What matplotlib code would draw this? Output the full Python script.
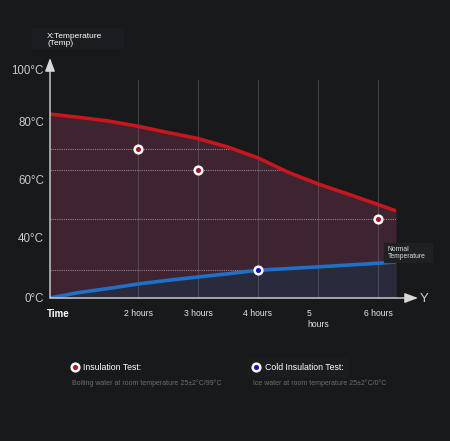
import numpy as np
import matplotlib
matplotlib.use('Agg')
import matplotlib.pyplot as plt
from matplotlib.lines import Line2D
from matplotlib.patches import Rectangle

plt.rcParams['font.family'] = ['Liberation Sans', 'DejaVu Sans']

W, H = 450, 441
BG = '#17191b'

# ---------------- data ----------------
red_hours = [0.53, 1.0, 1.5, 2.0, 2.5, 3.0, 3.5, 4.0, 4.5, 5.0, 5.5, 6.0, 6.3]
red_temp = [83.0, 81.8, 80.4, 78.5, 76.3, 74.2, 71.2, 67.4, 62.4, 58.3, 54.8, 51.2, 49.0]
blue_hours = [0.53, 1.0, 1.5, 2.0, 2.5, 3.0, 3.5, 4.0, 4.5, 5.0, 5.5, 6.0, 6.3]
blue_temp = [0.0, 3.5, 6.2, 9.2, 11.6, 13.8, 15.9, 18.2, 19.3, 20.4, 21.6, 22.8, 23.6]
hot_hours = [2, 3, 6]
hot_temp = [70.4, 63.1, 46.2]
cold_hours = [4]
cold_temp = [18.2]
y_ticks = [0, 40, 60, 80, 100]
y_labels = ['0°C', '40°C', '60°C', '80°C', '100°C']
x_ticks = [2, 3, 4, 5, 6]
x_labels = ['2 hours', '3 hours', '4 hours', '5\nhours', '6 hours']

# non-linear axis of the graphic: temperature -> drawn height
scale_t = [-40, 0, 40, 60, 80, 100, 140]
scale_h = [-61, 0, 61, 119, 176, 229, 335]


def fwd(t):
    return np.interp(t, scale_t, scale_h)


def inv(h):
    return np.interp(h, scale_h, scale_t)


def fx(px):
    return px / W


def fy(py):
    return 1 - py / H


fig = plt.figure(figsize=(4.5, 4.41), dpi=100, facecolor=BG)
ax = fig.add_axes([fx(50), fy(298), 368 / W, 240 / H])
ax.set_facecolor('none')
ax.set_yscale('function', functions=(fwd, inv))
ax.set_xlim(0.533, 6.667)
ax.set_ylim(0, float(inv(240)))
for s in ax.spines.values():
    s.set_visible(False)

# fills
ax.fill_between(red_hours, 0, red_temp, color='#3d2430', lw=0, zorder=1)
ax.fill_between(blue_hours, 0, blue_temp, color='#292b3d', lw=0, zorder=1.1)

# vertical grid
for h in x_ticks:
    ax.axvline(h, ymin=0, ymax=218 / 240, color='#8a8a92', alpha=0.33, lw=0.8, zorder=1.5)

# dotted guide lines
rt_rev = red_temp[::-1]
rh_rev = red_hours[::-1]
for hh, tt in zip(hot_hours, hot_temp):
    xe = float(np.interp(tt, rt_rev, rh_rev))
    ax.hlines(tt, 0.533, xe, colors='#9a8088', linestyles=(0, (1, 1)), lw=0.8, zorder=2)
for hh, tt in zip(cold_hours, cold_temp):
    ax.hlines(tt, 0.533, hh, colors='#9a8088', linestyles=(0, (1, 1)), lw=0.8, zorder=2)

# curves
ax.plot(red_hours, red_temp, color='#c8161d', lw=2.6, solid_capstyle='butt',
        solid_joinstyle='round', zorder=3)
ax.plot(blue_hours, blue_temp, color='#1f70c8', lw=2.6, solid_capstyle='butt',
        solid_joinstyle='round', zorder=3)

# dots
ax.plot(hot_hours, hot_temp, 'o', ms=5.5, mfc='#b0101c', mec='white', mew=1.8, zorder=5)
ax.plot(cold_hours, cold_temp, 'o', ms=5.5, mfc='#1010d0', mec='white', mew=1.8, zorder=5)

# axes with arrows
arrow = dict(arrowstyle='-|>,head_length=0.8,head_width=0.3', color='#d8d8d8', lw=1,
             mutation_scale=10, shrinkA=0, shrinkB=0)
ax.annotate('', xy=(1, 0), xytext=(0, 0), xycoords='axes fraction', arrowprops=arrow, zorder=6)
ax.annotate('', xy=(0, 1), xytext=(0, 0), xycoords='axes fraction', arrowprops=arrow, zorder=6)

# ticks
ax.set_yticks(y_ticks, y_labels)
ax.set_xticks(x_ticks, x_labels)
ax.yaxis.set_minor_locator(matplotlib.ticker.NullLocator())
ax.tick_params(axis='y', length=0, pad=4.3, labelsize=8.3, labelcolor='#c8c8c8')
ax.tick_params(axis='x', length=0, pad=8, labelsize=6.2, labelcolor='#e6e6e6')
for lbl in ax.get_xticklabels():
    lbl.set_multialignment('left')

fig.text(fx(47), fy(314), 'Time', ha='left', va='center', fontsize=7, weight='bold', color='white')
fig.text(fx(424), fy(299), 'Y', ha='center', va='center', fontsize=9.5, color='#d0d0d0')

# title box
fig.patches.append(Rectangle((fx(32), fy(48)), 91 / W, 20 / H, transform=fig.transFigure,
                             color='#1b1d20', zorder=0))
fig.text(fx(47), fy(40), 'X:Temperature\n(Temp)', ha='left', va='center', fontsize=6,
         color='white', linespacing=0.95)

fig.patches.append(Rectangle((fx(384), fy(262)), 48 / W, 19 / H, transform=fig.transFigure,
                             color='#1e2023', zorder=0))
fig.text(fx(388), fy(253), 'Normal\nTemperature', ha='left', va='center', fontsize=4.9,
         color='#e0e0e0', linespacing=0.9)

# legend
fig.patches.append(Rectangle((fx(248), fy(377)), 100 / W, 19 / H, transform=fig.transFigure,
                             color='#1a1c1f', zorder=0))
fig.add_artist(Line2D([fx(75)], [fy(367)], transform=fig.transFigure, marker='o', ms=5.5,
                      mfc='#c0101c', mec='white', mew=1.8, ls='none'))
fig.add_artist(Line2D([fx(256)], [fy(367)], transform=fig.transFigure, marker='o', ms=5.5,
                      mfc='#1010d0', mec='white', mew=1.8, ls='none'))
fig.text(fx(83), fy(367), 'Insulation Test:', fontsize=6.3, color='white', va='center')
fig.text(fx(265), fy(367), 'Cold Insulation Test:', fontsize=6.3, color='white', va='center')
fig.text(fx(72), fy(383), 'Boiling water at room temperature 25±2°C/99°C', fontsize=5,
         color='#6e6e6e', va='center')
fig.text(fx(253), fy(383), 'Ice water at room temperature 25±2°C/0°C', fontsize=5,
         color='#6e6e6e', va='center')

fig.savefig('out.png', dpi=100, facecolor=BG)
